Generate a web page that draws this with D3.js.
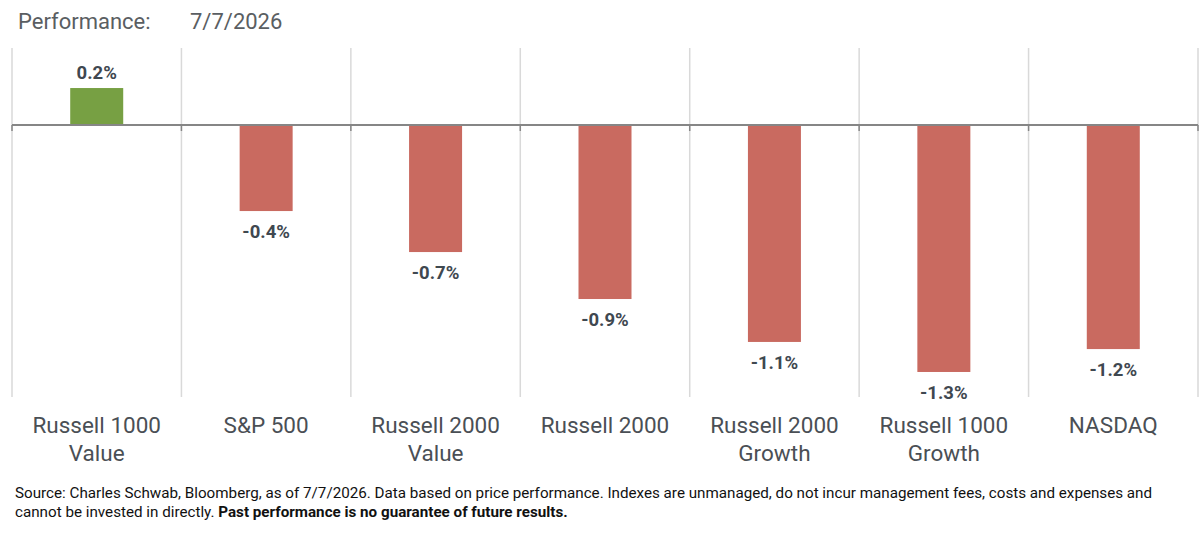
<!DOCTYPE html>
<html>
<head>
<meta charset="utf-8">
<script src="https://cdn.jsdelivr.net/npm/d3@7"></script>
<style>
  body { margin: 0; background: #fff; }
  svg { display: block; font-family: Roboto, "Liberation Sans", sans-serif; }
</style>
</head>
<body>
<script>
// Données
const indexes = ["Russell 1000|Value", "S&P 500", "Russell 2000|Value", "Russell 2000",
                 "Russell 2000|Growth", "Russell 1000|Growth", "NASDAQ"];
const perf = [0.192, -0.447, -0.660, -0.904, -1.127, -1.283, -1.164];
const perfLabels = ["0.2%", "-0.4%", "-0.7%", "-0.9%", "-1.1%", "-1.3%", "-1.2%"];
const yDomain = [-1.4, 0.4];

const W = 1200, H = 537;
const plotLeft = 12, plotRight = 1198, plotTop = 48, plotBottom = 394.5;

const svg = d3.select("body").append("svg")
    .attr("width", W)
    .attr("height", H);

// Titre
svg.append("text")
    .attr("x", 18).attr("y", 29)
    .attr("fill", "#5a5e62")
    .style("font-size", "22px")
    .text("Performance:");
svg.append("text")
    .attr("x", 190).attr("y", 29)
    .attr("fill", "#5a5e62")
    .style("font-size", "22px")
    .text("7/7/2026");

const x = d3.scaleBand()
    .domain(indexes)
    .range([plotLeft, plotRight])
    .paddingInner(0)
    .paddingOuter(0);

const y = d3.scaleLinear()
    .domain(yDomain)
    .range([plotBottom, plotTop]);

// Séparateurs verticaux
const seps = indexes.map(d => x(d)).concat([plotRight]);
svg.append("g").selectAll("line")
    .data(seps)
    .join("line")
    .attr("x1", d => d).attr("x2", d => d)
    .attr("y1", plotTop).attr("y2", 397)
    .attr("stroke", "#d9d9d9")
    .attr("stroke-width", 1.5);

// Barres
const barW = 53;
svg.append("g").selectAll("rect")
    .data(perf)
    .join("rect")
    .attr("x", (d, i) => x(indexes[i]) + x.bandwidth() / 2 - barW / 2)
    .attr("width", barW)
    .attr("y", d => y(Math.max(0, d)))
    .attr("height", d => Math.abs(y(d) - y(0)))
    .attr("fill", d => d >= 0 ? "#77a043" : "#c96a60");

// Ligne zéro + petites graduations
svg.append("line")
    .attr("x1", plotLeft).attr("x2", plotRight)
    .attr("y1", y(0)).attr("y2", y(0))
    .attr("stroke", "#868686")
    .attr("stroke-width", 2);
svg.append("g").selectAll("line")
    .data(seps)
    .join("line")
    .attr("x1", d => d).attr("x2", d => d)
    .attr("y1", y(0)).attr("y2", y(0) + 6)
    .attr("stroke", "#868686")
    .attr("stroke-width", 1.5);

// Etiquettes de valeur
svg.append("g").selectAll("text")
    .data(perf)
    .join("text")
    .attr("x", (d, i) => x(indexes[i]) + x.bandwidth() / 2)
    .attr("y", d => d >= 0 ? y(d) - 9 : y(d) + 27)
    .attr("text-anchor", "middle")
    .attr("fill", "#3f4850")
    .style("font-size", "18.5px")
    .style("font-weight", "bold")
    .text((d, i) => perfLabels[i]);

// Noms des indices
const cat = svg.append("g").selectAll("text")
    .data(indexes)
    .join("text")
    .attr("x", d => x(d) + x.bandwidth() / 2)
    .attr("y", 433)
    .attr("text-anchor", "middle")
    .attr("fill", "#4a4f55")
    .style("font-size", "22.5px");
cat.selectAll("tspan")
    .data(d => d.split("|"))
    .join("tspan")
    .attr("x", function() { return d3.select(this.parentNode).attr("x"); })
    .attr("dy", (d, i) => i === 0 ? 0 : 28)
    .text(d => d);

// Note de bas de page
const foot = svg.append("g")
    .attr("fill", "#111")
    .style("font-size", "15.2px");
foot.append("text")
    .attr("x", 15).attr("y", 498)
    .text("Source: Charles Schwab, Bloomberg, as of 7/7/2026. Data based on price performance. Indexes are unmanaged, do not incur management fees, costs and expenses and");
const l2 = foot.append("text")
    .attr("x", 15).attr("y", 517);
l2.append("tspan").text("cannot be invested in directly. ");
l2.append("tspan").style("font-weight", "bold").text("Past performance is no guarantee of future results.");
</script>
</body>
</html>
